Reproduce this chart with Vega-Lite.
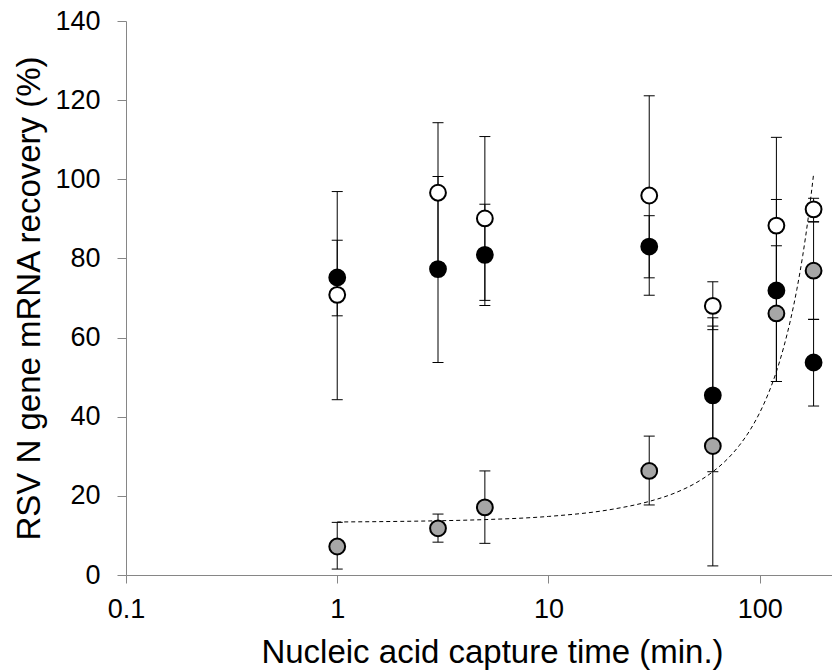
{
  "$schema": "https://vega.github.io/schema/vega-lite/v6.json",
  "width": 706,
  "height": 554,
  "autosize": {"type": "none"},
  "padding": {"left": 126, "top": 21, "right": 0, "bottom": 95},
  "background": "white",
  "config": {
    "font": "Liberation Sans",
    "view": {"stroke": null},
    "axis": {
      "grid": false,
      "domainColor": "#868686",
      "tickColor": "#868686",
      "domainWidth": 1,
      "tickWidth": 1,
      "labelColor": "black",
      "titleColor": "black",
      "labelFont": "Liberation Sans",
      "titleFont": "Liberation Sans",
      "labelFontSize": 27,
      "titleFontWeight": "normal"
    }
  },
  "datasets": {
    "pts": [
      {"series": "open", "time": 1, "recovery": 70.8, "lo": 44.3, "hi": 96.9},
      {"series": "open", "time": 3, "recovery": 96.6, "lo": 78.9, "hi": 114.3},
      {"series": "open", "time": 5, "recovery": 90.1, "lo": 69.4, "hi": 110.8},
      {"series": "open", "time": 30, "recovery": 95.9, "lo": 70.7, "hi": 121.1},
      {"series": "open", "time": 60, "recovery": 68.0, "lo": 62.0, "hi": 74.1},
      {"series": "open", "time": 120, "recovery": 88.3, "lo": 66.0, "hi": 110.6},
      {"series": "open", "time": 180, "recovery": 92.4, "lo": 89.3, "hi": 95.2},
      {"series": "gray", "time": 1, "recovery": 7.2, "lo": 1.5, "hi": 13.3},
      {"series": "gray", "time": 3, "recovery": 11.8, "lo": 8.3, "hi": 15.4},
      {"series": "gray", "time": 5, "recovery": 17.1, "lo": 8.0, "hi": 26.3},
      {"series": "gray", "time": 30, "recovery": 26.3, "lo": 17.7, "hi": 35.1},
      {"series": "gray", "time": 60, "recovery": 32.6, "lo": 2.3, "hi": 62.9},
      {"series": "gray", "time": 120, "recovery": 66.1, "lo": 48.9, "hi": 83.2},
      {"series": "gray", "time": 180, "recovery": 76.9, "lo": 64.6, "hi": 89.2},
      {"series": "filled", "time": 1, "recovery": 75.2, "lo": 65.5, "hi": 84.6},
      {"series": "filled", "time": 3, "recovery": 77.3, "lo": 53.7, "hi": 100.7},
      {"series": "filled", "time": 5, "recovery": 80.9, "lo": 68.1, "hi": 93.7},
      {"series": "filled", "time": 30, "recovery": 83.0, "lo": 75.1, "hi": 90.8},
      {"series": "filled", "time": 60, "recovery": 45.4, "lo": 26.1, "hi": 65.0},
      {"series": "filled", "time": 120, "recovery": 71.9, "lo": 48.9, "hi": 94.9},
      {"series": "filled", "time": 180, "recovery": 53.7, "lo": 42.7, "hi": 64.6}
    ],
    "fit": [
      {"time": 1, "recovery": 13.4},
      {"time": 2, "recovery": 13.55},
      {"time": 3, "recovery": 13.7},
      {"time": 5, "recovery": 14.0},
      {"time": 10, "recovery": 14.8},
      {"time": 20, "recovery": 16.6},
      {"time": 30, "recovery": 18.6},
      {"time": 40, "recovery": 20.8},
      {"time": 50, "recovery": 23.3},
      {"time": 60, "recovery": 26.1},
      {"time": 70, "recovery": 29.2},
      {"time": 80, "recovery": 32.7},
      {"time": 90, "recovery": 36.6},
      {"time": 100, "recovery": 41.0},
      {"time": 110, "recovery": 45.9},
      {"time": 120, "recovery": 51.4},
      {"time": 130, "recovery": 57.6},
      {"time": 140, "recovery": 64.5},
      {"time": 150, "recovery": 72.2},
      {"time": 160, "recovery": 80.8},
      {"time": 170, "recovery": 90.5},
      {"time": 180, "recovery": 101.3}
    ]
  },
  "encoding": {
    "x": {
      "field": "time",
      "type": "quantitative",
      "scale": {"type": "log", "domain": [0.1, 220], "nice": false},
      "axis": {
        "values": [0.1, 1, 10, 100],
        "format": "~g",
        "tickSize": 8,
        "labelPadding": 13,
        "labelFontSize": 27,
        "title": "Nucleic acid capture time (min.)",
        "titleFontSize": 33,
        "titleX": 366,
        "titleY": 87,
        "titleAlign": "center",
        "titleBaseline": "alphabetic",
        "labelFlush": false,
        "labelOverlap": false
      }
    },
    "y": {
      "field": "recovery",
      "type": "quantitative",
      "scale": {"domain": [0, 140], "nice": false},
      "axis": {
        "values": [0, 20, 40, 60, 80, 100, 120, 140],
        "tickSize": 9,
        "labelPadding": 17,
        "labelFontSize": 27,
        "title": "RSV N gene mRNA recovery (%)",
        "titleFontSize": 33,
        "titleX": -87,
        "titleY": 277,
        "titleAngle": -90,
        "titleAlign": "center",
        "titleBaseline": "alphabetic",
        "labelFlush": false,
        "labelOverlap": false
      }
    }
  },
  "layer": [
    {
      "data": {"name": "pts"},
      "mark": {"type": "rule", "color": "black", "strokeWidth": 1},
      "encoding": {"y": {"field": "lo", "type": "quantitative"}, "y2": {"field": "hi"}}
    },
    {
      "data": {"name": "pts"},
      "mark": {"type": "tick", "orient": "horizontal", "color": "black", "size": 11, "thickness": 1, "opacity": 1},
      "encoding": {"y": {"field": "lo", "type": "quantitative"}}
    },
    {
      "data": {"name": "pts"},
      "mark": {"type": "tick", "orient": "horizontal", "color": "black", "size": 11, "thickness": 1, "opacity": 1},
      "encoding": {"y": {"field": "hi", "type": "quantitative"}}
    },
    {
      "data": {"name": "fit"},
      "mark": {"type": "line", "color": "black", "strokeWidth": 1, "strokeDash": [4, 3], "interpolate": "monotone"},
      "encoding": {}
    },
    {
      "data": {"name": "pts"},
      "mark": {"type": "point", "shape": "circle", "filled": false, "size": 250, "stroke": "black", "strokeWidth": 2, "opacity": 1, "fillOpacity": 1},
      "encoding": {
        "fill": {
          "field": "series",
          "type": "nominal",
          "scale": {"domain": ["open", "gray", "filled"], "range": ["white", "#a6a6a6", "black"]},
          "legend": null
        }
      }
    }
  ]
}
